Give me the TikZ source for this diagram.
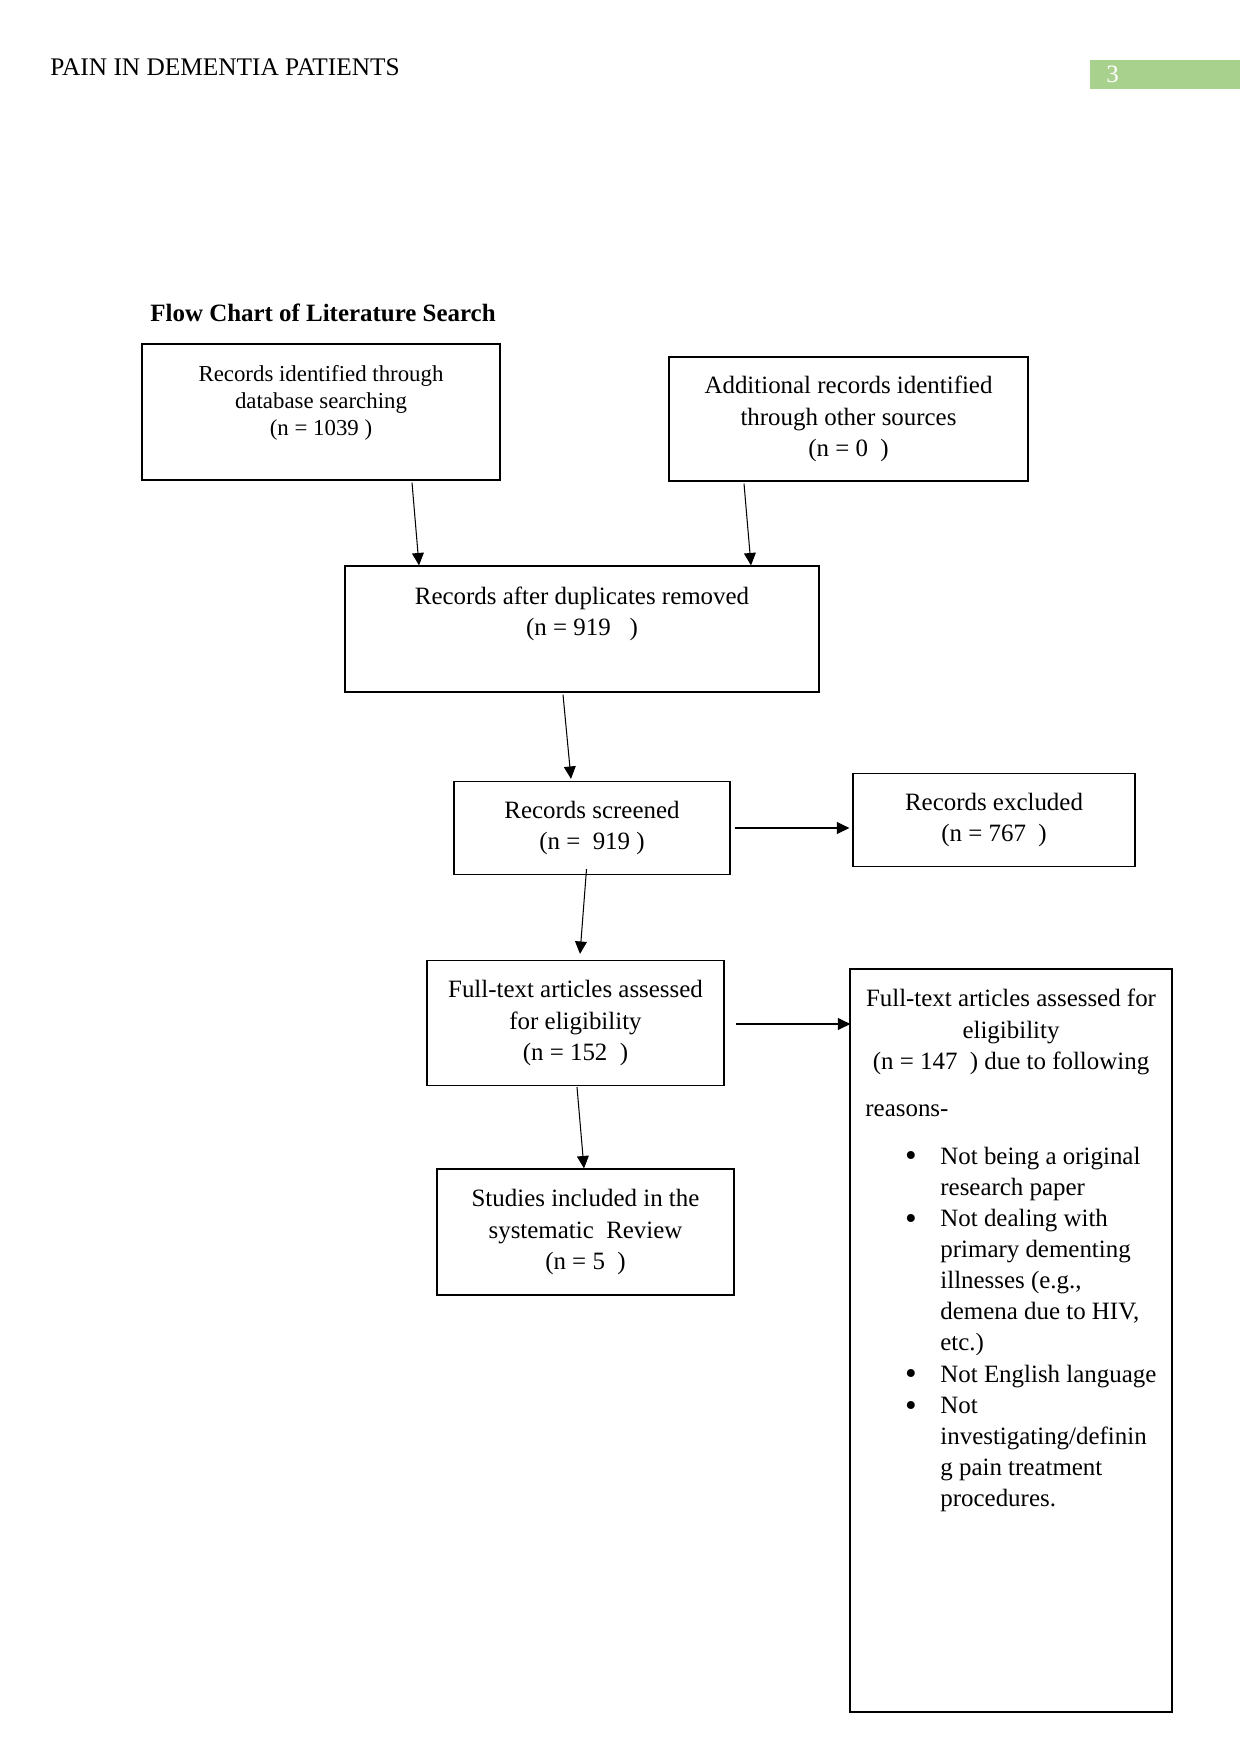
\documentclass[tikz,border=0pt]{standalone}
\usepackage{fontspec}
\setmainfont{Liberation Serif}
\usetikzlibrary{arrows.meta,calc}
\definecolor{page-green}{HTML}{A9D18E}
\newcommand{\itembul}{\makebox[1.269cm][l]{\hspace*{0.67cm}%
  \raisebox{-1.4pt}{\fontsize{16}{15}\selectfont\textbullet}}}

\begin{document}
\begin{tikzpicture}[x=0.016922cm, y=-0.016922cm,
        every node/.style={font=\fontsize{12}{15}\selectfont, inner sep=0pt},
        box/.style={draw, line width=0.6pt, align=center},
        flow/.style={-{Triangle[length=0.21cm, width=0.2cm]}, line width=0.5pt}]
      \useasboundingbox (0,0) rectangle (1241,1754);
      % running head
      \node[anchor=base west, font=\fontsize{12.2}{15}\selectfont]
            (runhead) at (50,76) {PAIN IN DEMENTIA PATIENTS};
      \node[fill=page-green, anchor=north west,
            minimum width=2.525cm, minimum height=0.491cm] (pagebox) at (1090,60) {};
      \node[anchor=base west, text=white] (pagenum) at (1106,83) {3};
      \node[anchor=base west, font=\bfseries\fontsize{12}{15}\selectfont]
            (title) at (150,322) {Flow Chart of Literature Search};
      % identification
      \node[box, minimum width=6.058cm, minimum height=2.301cm,
            font=\fontsize{11}{13}\selectfont]
            (dbrec) at (321,412) {Records identified through\\database searching\\
              (n = 1039 )\\[-2pt]\mbox{}};
      \node[box, minimum width=6.075cm, minimum height=2.098cm]
            (otherrec) at (848.5,419) {Additional records identified\\
              through other sources\\(n = 0~ )};
      \node[box, minimum width=8.021cm, minimum height=2.132cm]
            (dedup) at (582,629) {Records after duplicates removed\\(n = 919~~~)\\[2pt]\mbox{}};
      % screening
      \node[box, minimum width=4.670cm, minimum height=1.574cm]
            (screen) at (592,828) {Records screened\\(n =~ 919 )};
      \node[box, minimum width=4.772cm, minimum height=1.574cm]
            (excl) at (994,820) {Records excluded\\(n = 767~ )};
      % eligibility
      \node[box, minimum width=5.026cm, minimum height=2.115cm]
            (fulltext) at (575.5,1023) {Full-text articles assessed\\for eligibility\\
              (n = 152~ )};
      \node[box, minimum width=5.449cm, minimum height=12.573cm]
            (ftexcl) at (1011,1340.5) {};
      \node[align=center] (ftexclhead) at (1011,1032)
            {Full-text articles assessed for\\eligibility\\(n = 147~ ) due to following};
      \node[anchor=base west] (reasons) at (865,1116) {reasons-};
      \node[anchor=base west] (reasonlist) at (865,1164)
            {\begin{tabular}[t]{@{}l@{}l@{}}
              \itembul & Not being a original\\
                       & research paper\\
              \itembul & Not dealing with\\
                       & primary dementing\\
                       & illnesses (e.g.,\\
                       & demena due to HIV,\\
                       & etc.)\\
              \itembul & Not English language\\
              \itembul & Not\\
                       & investigating/definin\\
                       & g pain treatment\\
                       & procedures.
            \end{tabular}};
      % included
      \node[box, minimum width=5.026cm, minimum height=2.132cm]
            (incl) at (585.5,1232) {Studies included in the\\systematic~ Review\\(n = 5~ )};
      % arrows
      \draw[flow] ($(dbrec.south)+(91,2)$) -- ($(dedup.north)+(-163,0)$);
      \draw[flow] ($(otherrec.south)+(-104.5,2)$) -- ($(dedup.north)+(169,0)$);
      \draw[flow] ($(dedup.south)+(-19,2)$) -- ($(screen.north)+(-21,-2)$);
      \draw[flow] ($(screen.east)+(4,0)$) -- ($(excl.west)+(-3,8)$);
      \draw[flow] ($(screen.south)+(-5.5,-6)$) -- ($(fulltext.north)+(4.5,-6)$);
      \draw[flow] ($(fulltext.east)+(11,1)$) -- ($(ftexcl.west)+(1,-316.5)$);
      \draw[flow] ($(fulltext.south)+(1.5,1)$) -- ($(incl.north)+(-1.5,0)$);
    \end{tikzpicture}
\end{document}
